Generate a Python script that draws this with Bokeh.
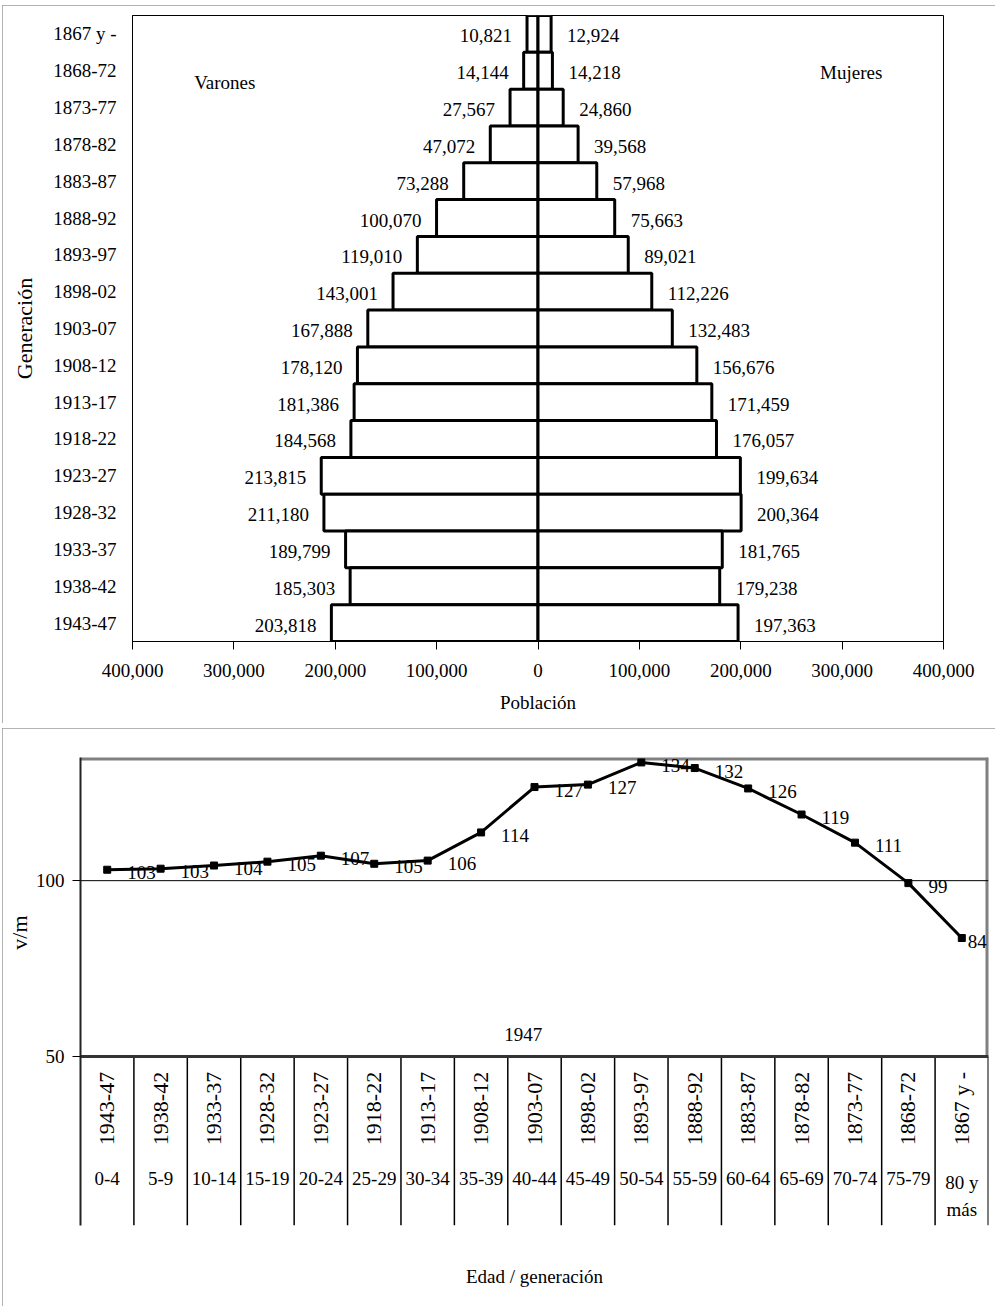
from math import pi
from bokeh.plotting import figure
from bokeh.models import (FactorRange, Range1d, FixedTicker, CustomJSTickFormatter,
                          Label, ColumnDataSource, Title)
from bokeh.core.properties import value
from bokeh.embed import file_html
from bokeh.resources import INLINE

FONT = "Liberation Serif"
OUTER = {"outline": "1px solid #9a9a9a", "outline-offset": "-1px"}

# ---------------- data ----------------
generaciones = ["1867 y -", "1868-72", "1873-77", "1878-82", "1883-87", "1888-92",
                "1893-97", "1898-02", "1903-07", "1908-12", "1913-17", "1918-22",
                "1923-27", "1928-32", "1933-37", "1938-42", "1943-47"]
varones = [10821, 14144, 27567, 47072, 73288, 100070, 119010, 143001, 167888,
           178120, 181386, 184568, 213815, 211180, 189799, 185303, 203818]
mujeres = [12924, 14218, 24860, 39568, 57968, 75663, 89021, 112226, 132483,
           156676, 171459, 176057, 199634, 200364, 181765, 179238, 197363]
x_ticks = [-400000, -300000, -200000, -100000, 0, 100000, 200000, 300000, 400000]

gen_linea = ["1943-47", "1938-42", "1933-37", "1928-32", "1923-27", "1918-22",
             "1913-17", "1908-12", "1903-07", "1898-02", "1893-97", "1888-92",
             "1883-87", "1878-82", "1873-77", "1868-72", "1867 y -"]
edades = ["0-4", "5-9", "10-14", "15-19", "20-24", "25-29", "30-34", "35-39",
          "40-44", "45-49", "50-54", "55-59", "60-64", "65-69", "70-74", "75-79",
          "80 y\nmás"]
vm = [103.1, 103.4, 104.3, 105.4, 107.1, 104.8, 105.7, 113.7, 126.6, 127.3,
      133.6, 132.0, 126.2, 118.8, 110.8, 99.3, 83.7]
y_ticks = [50, 100]

# ---------------- top: pyramid ----------------
p1 = figure(width=993, height=718, y_range=FactorRange(factors=generaciones[::-1]),
            x_range=Range1d(-400000, 400000), output_backend="svg",
            toolbar_location=None, min_border_left=130, min_border_right=52,
            min_border_top=10, min_border_bottom=82,
            margin=(5, 0, 0, 2), styles=OUTER)
p1.outline_line_color = "black"
p1.outline_line_width = 1
p1.grid.visible = False

src = ColumnDataSource(dict(
    gen=generaciones, neg=[-v for v in varones], var=varones, muj=mujeres,
    tv=[f"{v:,}" for v in varones], tm=[f"{v:,}" for v in mujeres]))

p1.hbar(y="gen", left="neg", right=0, height=1.0, source=src,
        fill_color="white", line_color="black", line_width=3)
p1.hbar(y="gen", left=0, right="muj", height=1.0, source=src,
        fill_color="white", line_color="black", line_width=3)
p1.text(x="neg", y="gen", text="tv", source=src, x_offset=-15, y_offset=2,
        text_align="right", text_baseline="middle", text_font=value(FONT),
        text_font_size="19px", text_color="black")
p1.text(x="muj", y="gen", text="tm", source=src, x_offset=16, y_offset=2,
        text_align="left", text_baseline="middle", text_font=value(FONT),
        text_font_size="19px", text_color="black")

p1.add_layout(Label(x=-309000, y=15.18, text="Varones", text_align="center",
                    text_baseline="middle", text_font=FONT, text_font_size="19px",
                    text_color="black"))
p1.add_layout(Label(x=309000, y=15.45, text="Mujeres", text_align="center",
                    text_baseline="middle", text_font=FONT, text_font_size="19px",
                    text_color="black"))

xa = p1.xaxis[0]
xa.ticker = FixedTicker(ticks=x_ticks)
xa.formatter = CustomJSTickFormatter(code="return Math.abs(tick).toLocaleString('en-US');")
xa.major_tick_out = 8
xa.major_tick_in = 0
xa.minor_tick_line_color = None
xa.major_label_standoff = 14
xa.major_label_text_font = FONT
xa.major_label_text_font_size = "19px"
xa.major_label_text_color = "black"
xa.axis_label = "Población"
xa.axis_label_text_font = FONT
xa.axis_label_text_font_size = "19px"
xa.axis_label_text_font_style = "normal"
xa.axis_label_text_color = "black"
xa.axis_label_standoff = 12
xa.axis_line_color = "black"

ya = p1.yaxis[0]
ya.major_tick_line_color = None
ya.minor_tick_line_color = None
ya.major_label_standoff = 10
ya.major_label_text_font = FONT
ya.major_label_text_font_size = "19px"
ya.major_label_text_color = "black"
ya.axis_label = "Generación"
ya.axis_label_text_font = FONT
ya.axis_label_text_font_size = "22px"
ya.axis_label_text_font_style = "normal"
ya.axis_label_text_color = "black"
ya.axis_label_standoff = 13

# ---------------- bottom: sex ratio ----------------
n = len(vm)
xc = [i + 0.5 for i in range(n)]
p2 = figure(width=993, height=578, x_range=Range1d(0, n), y_range=Range1d(2, 135),
            output_backend="svg", toolbar_location=None, min_border_left=78,
            min_border_right=7, min_border_top=29, min_border_bottom=81,
            margin=(5, 0, 0, 2), styles=OUTER)
p2.outline_line_color = None
p2.grid.visible = False

# frame borders and reference lines
p2.segment(x0=[0], y0=[135], x1=[n], y1=[135], line_color="#808080", line_width=6)
p2.segment(x0=[n], y0=[50], x1=[n], y1=[135], line_color="#808080", line_width=6)
p2.segment(x0=[n], y0=[2], x1=[n], y1=[50], line_color="black", line_width=2)
p2.segment(x0=[0], y0=[100], x1=[n], y1=[100], line_color="black", line_width=1)
seps = list(range(1, n))
p2.segment(x0=seps, y0=[2] * len(seps), x1=seps, y1=[50] * len(seps),
           line_color="black", line_width=1.5)
p2.segment(x0=[0], y0=[50], x1=[n], y1=[50], line_color="#333333", line_width=3)

p2.line(x=xc, y=vm, line_color="black", line_width=3)
p2.scatter(x=xc, y=vm, marker="square", size=7, color="black")
p2.text(x=xc, y=vm, text=[f"{v:.0f}" for v in vm],
        x_offset=[20] * (n - 1) + [6], y_offset=3, text_align="left",
        text_baseline="middle", text_font=value(FONT), text_font_size="19px",
        text_color="black")

p2.text(x=[8.29], y=[56.3], text=["1947"], text_align="center", text_baseline="middle",
        text_font=value(FONT), text_font_size="19px", text_color="black")

# category table below the plot
p2.text(x=xc, y=[35.25] * n, text=gen_linea, angle=pi / 2, text_align="center",
        text_baseline="middle", text_font=value(FONT), text_font_size="22px",
        text_color="black")
p2.text(x=xc, y=[17.1] * n, text=edades, text_align="center", text_baseline="top",
        text_font=value(FONT), text_font_size="19px", text_color="black",
        text_line_height=1.25)

ya2 = p2.yaxis[0]
ya2.ticker = FixedTicker(ticks=y_ticks)
ya2.major_tick_out = 8
ya2.major_tick_in = 0
ya2.minor_tick_line_color = None
ya2.axis_line_color = "#222222"
ya2.axis_line_width = 2
ya2.major_label_standoff = 8
ya2.major_label_text_font = FONT
ya2.major_label_text_font_size = "19px"
ya2.major_label_text_color = "black"

p2.add_layout(Title(text="v/m", align="right", offset=158, standoff=2,
                    text_font=FONT, text_font_size="22px", text_font_style="normal",
                    text_color="black"), "left")

xa2 = p2.xaxis[0]
xa2.ticker = FixedTicker(ticks=[])
xa2.axis_line_color = None
xa2.major_tick_line_color = None
xa2.minor_tick_line_color = None
xa2.major_tick_out = 0
xa2.major_label_text_font_size = "0px"
xa2.axis_label = "Edad / generación"
xa2.axis_label_text_font = FONT
xa2.axis_label_text_font_size = "19px"
xa2.axis_label_text_font_style = "normal"
xa2.axis_label_text_color = "black"
xa2.axis_label_standoff = 40

open("out.html", "w").write(file_html([p1, p2], INLINE))
